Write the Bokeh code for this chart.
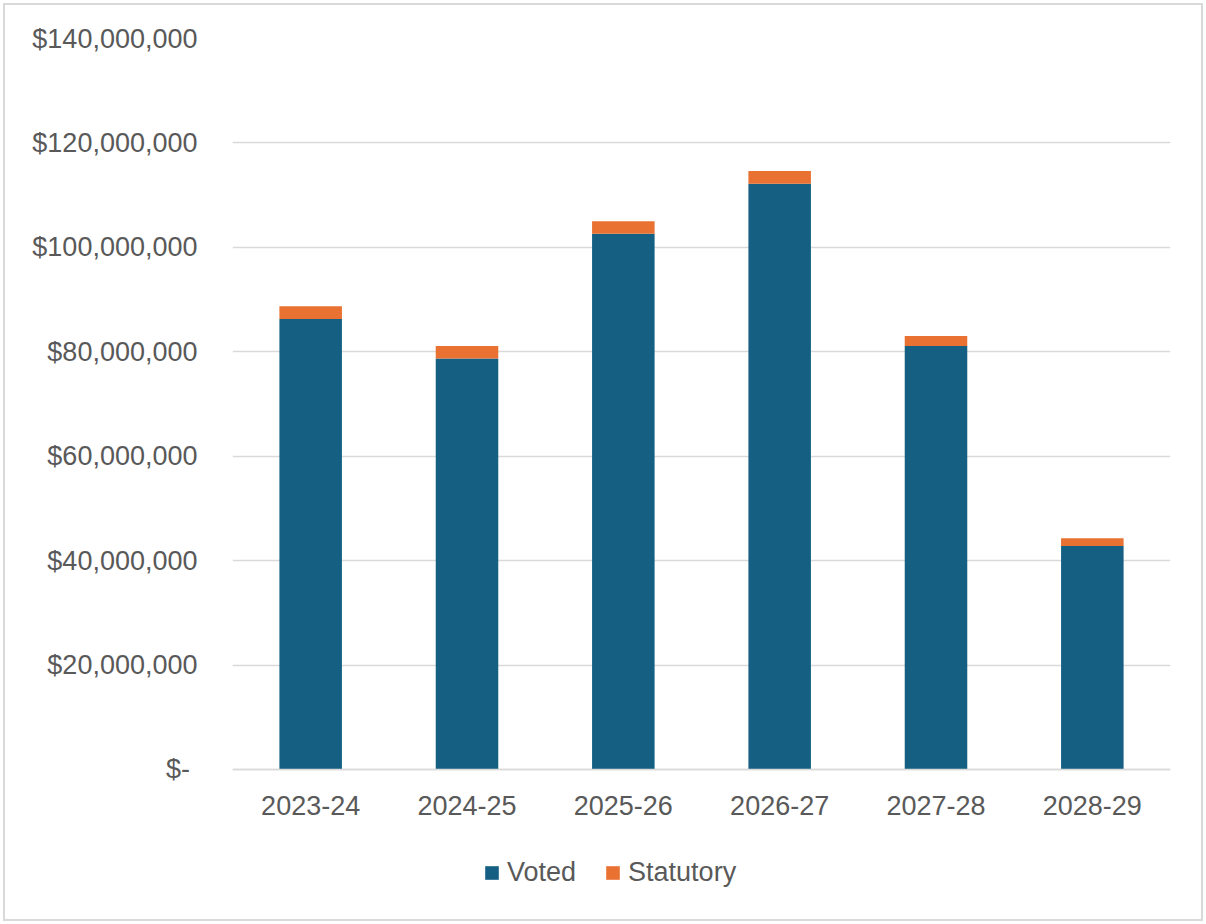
from bokeh.plotting import figure
from bokeh.models import (FactorRange, Range1d, FixedTicker, NumeralTickFormatter,
                          Legend, LegendItem, ColumnDataSource, InlineStyleSheet)
from bokeh.embed import file_html
from bokeh.resources import INLINE

years = ["2023-24", "2024-25", "2025-26", "2026-27", "2027-28", "2028-29"]
voted = [86_300_000, 78_700_000, 102_600_000, 112_200_000, 81_100_000, 42_800_000]
statutory = [2_400_000, 2_400_000, 2_400_000, 2_400_000, 1_900_000, 1_500_000]
y_ticks = [0, 20_000_000, 40_000_000, 60_000_000, 80_000_000, 100_000_000, 120_000_000, 140_000_000]

VOTED_COLOR = "#156082"
STAT_COLOR = "#E97132"
TEXT = "#595959"
GRID = "#D9D9D9"
FONT = "Liberation Sans"
FS = "27px"

# plot area extends below zero so the legend (drawn inside the frame) is not clipped
Y_MIN = -26_050_000
Y_MAX = 140_000_000

src = ColumnDataSource(dict(year=years, Voted=voted, Statutory=statutory))

p = figure(x_range=FactorRange(*years, range_padding=0), y_range=Range1d(Y_MIN, Y_MAX),
           width=1206, height=924, output_backend="svg", toolbar_location=None,
           min_border_left=232, min_border_right=36, min_border_top=38, min_border_bottom=19)
p.stylesheets = [InlineStyleSheet(css=":host { box-shadow: inset 0 0 0 3px #ffffff, inset 0 0 0 5px #D9D9D9; background: #ffffff; }")]

rs = p.vbar_stack(["Voted", "Statutory"], x="year", width=0.4, source=src,
                  color=[VOTED_COLOR, STAT_COLOR], line_color=None)

p.outline_line_color = None
p.background_fill_color = None
p.border_fill_color = None

p.yaxis.ticker = FixedTicker(ticks=y_ticks)
p.yaxis.formatter = NumeralTickFormatter(format="$0,0")
p.yaxis.major_label_overrides = {0: "$-\u00a0"}
p.yaxis.axis_line_color = None
p.yaxis.major_tick_line_color = None
p.yaxis.minor_tick_line_color = None
p.yaxis.major_label_standoff = 29
p.yaxis.major_label_text_font = FONT
p.yaxis.major_label_text_font_size = FS
p.yaxis.major_label_text_color = TEXT

p.xaxis.fixed_location = 0
p.xaxis.axis_line_color = GRID
p.xaxis.axis_line_width = 1.5
p.xaxis.major_tick_line_color = None
p.xaxis.minor_tick_line_color = None
p.xaxis.major_label_standoff = 21
p.xaxis.major_label_text_font = FONT
p.xaxis.major_label_text_font_size = FS
p.xaxis.major_label_text_color = TEXT

p.xgrid.grid_line_color = None
p.ygrid.grid_line_color = GRID
p.ygrid.grid_line_width = 1.5

legend = Legend(items=[LegendItem(label="Voted", renderers=[rs[0]]),
                       LegendItem(label="Statutory", renderers=[rs[1]])],
                orientation="horizontal", location=(251, 17),
                label_text_font=FONT, label_text_font_size=FS, label_text_color=TEXT,
                glyph_width=17, glyph_height=17, label_standoff=7, spacing=28,
                border_line_color=None, background_fill_alpha=0, padding=0, margin=0)
p.add_layout(legend)

open("out.html", "w").write(file_html(p, INLINE))
